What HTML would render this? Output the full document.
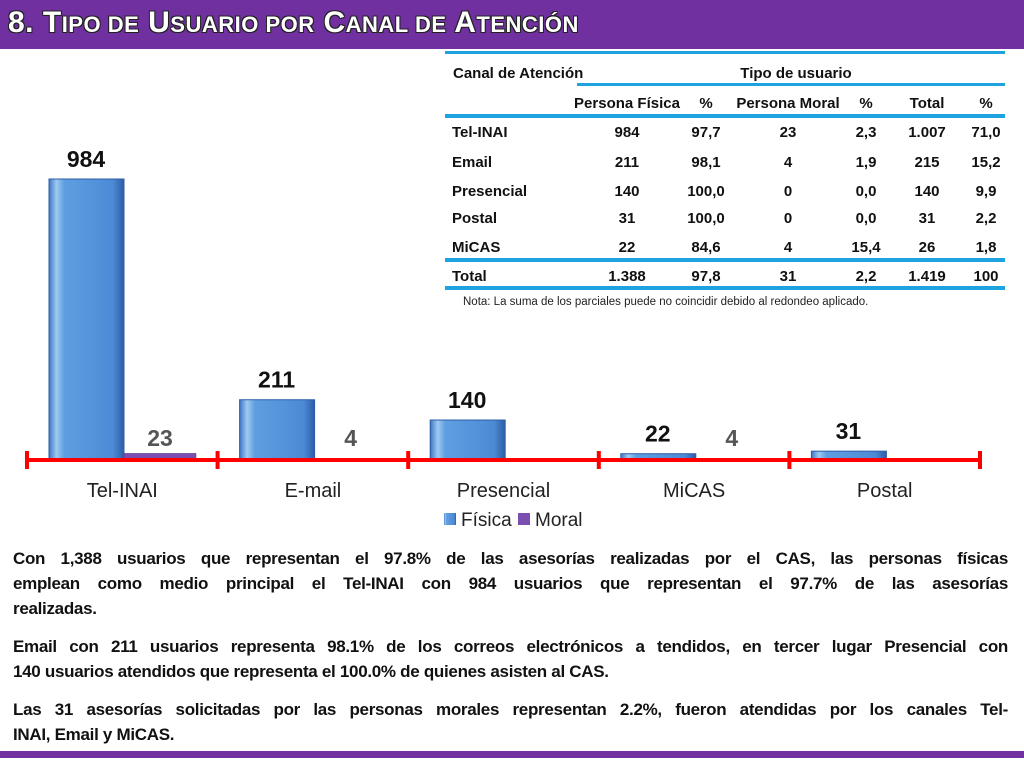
<!DOCTYPE html>
<html><head><meta charset="utf-8">
<style>
body{margin:0;width:1024px;height:768px;background:#fff;overflow:hidden;position:relative;font-family:"Liberation Sans",sans-serif}
#hdr{position:absolute;left:0;top:0;width:1024px;height:49px;background:#7030a0}
#hdr div{position:absolute;left:8px;top:6px;color:#fff;font-weight:bold;font-size:30px;letter-spacing:0.5px;text-shadow:-1px -1px 0 #222,1px -1px 0 #222,-1px 1px 0 #222,1px 1px 0 #222}
#hdr small{font-size:22px}
.p{position:absolute;left:13px;width:995px;font-weight:bold;font-size:17px;color:#111;white-space:nowrap;letter-spacing:-0.3px}
.j{text-align:justify;text-align-last:justify}
#foot{position:absolute;left:0;top:751px;width:1024px;height:7px;background:#7030a0}
svg{position:absolute;left:0;top:0}
</style></head><body>
<div id="hdr"><div>8. T<small>IPO DE</small> U<small>SUARIO POR</small> C<small>ANAL DE</small> A<small>TENCIÓN</small></div></div>
<svg id="chart" width="1024" height="768"></svg>
<div class="p j" style="top:549px">Con 1,388 usuarios que representan el 97.8% de las asesorías realizadas por el CAS, las personas físicas</div>
<div class="p j" style="top:574px">emplean como medio principal el Tel-INAI con 984 usuarios que representan el 97.7% de las asesorías</div>
<div class="p" style="top:599px">realizadas.</div>
<div class="p j" style="top:637px">Email con 211 usuarios representa 98.1% de los correos electrónicos a tendidos, en tercer lugar Presencial con</div>
<div class="p" style="top:662px">140 usuarios atendidos que representa el 100.0% de quienes asisten al CAS.</div>
<div class="p j" style="top:700px">Las 31 asesorías solicitadas por las personas morales representan 2.2%, fueron atendidas por los canales Tel-</div>
<div class="p" style="top:725px">INAI, Email y MiCAS.</div>
<div id="foot"></div>
<script>
const categories=["Tel-INAI","E-mail","Presencial","MiCAS","Postal"];
const fisica=[984,211,140,22,31];
const moral=[23,4,0,4,0];
const moralLabels=["23","4","","4",""];
const tableRows=[["Tel-INAI","984","97,7","23","2,3","1.007","71,0"],["Email","211","98,1","4","1,9","215","15,2"],["Presencial","140","100,0","0","0,0","140","9,9"],["Postal","31","100,0","0","0,0","31","2,2"],["MiCAS","22","84,6","4","15,4","26","1,8"],["Total","1.388","97,8","31","2,2","1.419","100"]];
const NS="http://www.w3.org/2000/svg";
const svg=document.getElementById('chart');
function mk(t,a,p){const e=document.createElementNS(NS,t);for(const k in a)e.setAttribute(k,a[k]);(p||svg).appendChild(e);return e;}
const defs=mk('defs',{});
defs.innerHTML='<linearGradient id="gb" x1="0" x2="1"><stop offset="0" stop-color="#3d76c4"/><stop offset="0.1" stop-color="#9fcaf2"/><stop offset="0.2" stop-color="#5f9fe0"/><stop offset="0.85" stop-color="#4d8ad6"/><stop offset="1" stop-color="#2d5ea6"/></linearGradient>';
const base=460,scale=281/984,x0=27,gw=190.6;
const y=v=>base-v*scale, gx=i=>x0+gw*i;
categories.forEach((c,i)=>{
  const fx=gx(i)+22,mx=gx(i)+97;
  let r=mk('rect',{x:fx,y:y(fisica[i]),width:75,height:fisica[i]*scale,fill:'url(#gb)',stroke:'#2d5ea6','stroke-width':1});
  
  
  let m=mk('rect',{x:mx,y:y(moral[i]),width:72,height:Math.max(moral[i]*scale,0),fill:'#7b4fb0',stroke:'#5a2f90','stroke-width':0.5});
  
  
  let t=mk('text',{x:fx+37,y:y(fisica[i])-12,'text-anchor':'middle','font-size':23,'font-weight':'bold',fill:'#111'});
  t.textContent=fisica[i];
  
  
  if(moralLabels[i]){let t2=mk('text',{x:mx+36,y:Math.min(y(moral[i])-6,446),'text-anchor':'middle','font-size':23,'font-weight':'bold',fill:'#555'});t2.textContent=moralLabels[i];
  
  }
  let cl=mk('text',{x:gx(i)+gw/2,y:497,'text-anchor':'middle','font-size':20,fill:'#222'});
  cl.textContent=c;
  
  
});
let ax=mk('line',{x1:x0,y1:base,x2:x0+gw*5,y2:base,stroke:'#f00','stroke-width':4});


for(let i=0;i<=5;i++){mk('line',{x1:gx(i),y1:451,x2:gx(i),y2:469,stroke:'#f00','stroke-width':4});}
mk('rect',{x:444,y:513,width:12,height:12,fill:'url(#gb)'});
let l1=mk('text',{x:461,y:526,'font-size':19,fill:'#222'});l1.textContent='Física';


mk('rect',{x:518,y:513,width:12,height:12,fill:'#7b4fb0'});
let l2=mk('text',{x:535,y:526,'font-size':19,fill:'#222'});l2.textContent='Moral';


const tb='#1fa3e0';
mk('rect',{x:445,y:51,width:560,height:3,fill:tb});
mk('rect',{x:577,y:83,width:428,height:3,fill:tb});
mk('rect',{x:445,y:114,width:560,height:4,fill:tb});
mk('rect',{x:445,y:258,width:560,height:4,fill:tb});
mk('rect',{x:445,y:286,width:560,height:4,fill:tb});
const tf={'font-size':15,'font-weight':'bold',fill:'#111','font-family':'Liberation Sans Narrow, Liberation Sans, sans-serif'};
function tt(x,yy,s,anchor,name){const e=mk('text',Object.assign({x:x,y:yy,'text-anchor':anchor},tf));e.textContent=s;return e;}
tt(453,78,'Canal de Atención','start','table-header-canal');
tt(796,78,'Tipo de usuario','middle','table-header-tipo');
const cx=[627,706,788,866,927,986];
const heads=['Persona Física','%','Persona Moral','%','Total','%'];
heads.forEach((h,i)=>tt(cx[i],108,h,'middle','table-col-header-'+i));
const ry=[137,167,196,223,252,281];
tableRows.forEach((r,j)=>{tt(452,ry[j],r[0],'start','table-row-'+j+'-label');r.slice(1).forEach((v,i)=>tt(cx[i],ry[j],v,'middle','table-cell-'+j+'-'+i));});
let n=mk('text',{x:463,y:305,'font-size':11.5,fill:'#222'});n.textContent='Nota: La suma de los parciales puede no coincidir debido al redondeo aplicado.';


</script>
</body></html>
